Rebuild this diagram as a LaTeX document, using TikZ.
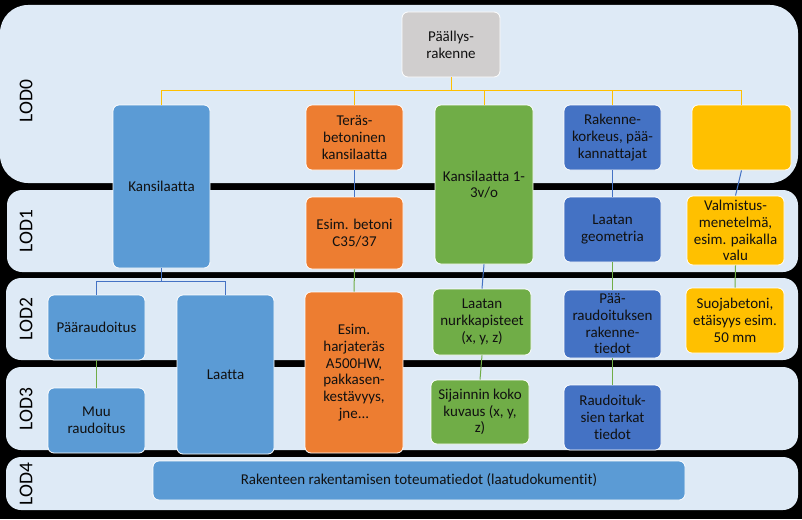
\documentclass[tikz,border=0pt]{standalone}
\usepackage{fontspec}
\setmainfont{Carlito}[Ligatures=NoCommon]
\definecolor{bandc}{HTML}{DEEAF6}
\definecolor{lblue}{HTML}{5B9BD5}
\definecolor{dblue}{HTML}{4472C4}
\definecolor{orng}{HTML}{ED7D31}
\definecolor{grn}{HTML}{70AD47}
\definecolor{yel}{HTML}{FFC000}
\definecolor{gry}{HTML}{D0CECE}
\definecolor{txt}{HTML}{111111}
\tikzset{
  band/.style={fill=bandc, draw=none},
  lodlabel/.style={rotate=90, font=\fontsize{19.5}{21}\selectfont, text=black},
  box/.style={draw=white, line width=0.8pt, rounded corners=6pt, align=center,
    inner sep=1pt, text=txt, font=\fontsize{15}{16.7}\selectfont},
  wbox/.style={box, minimum width=97pt},
  conny/.style={yel, line width=1pt},
  connb/.style={dblue, line width=1pt},
  conng/.style={grn, line width=1pt},
}
\begin{document}
\begin{tikzpicture}[x=1pt,y=-1pt]
\fill[black] (0,0) rectangle (802,519);
\useasboundingbox (0,0) rectangle (802,519);
% bands
\fill[band, rounded corners=28pt] (0,5) rectangle (798,183);
\fill[band, rounded corners=15pt] (7,190) rectangle (798,272);
\fill[band, rounded corners=15pt] (6,278) rectangle (798,360);
\fill[band, rounded corners=15pt] (6,367) rectangle (798,450);
\fill[band, rounded corners=15pt] (6,457) rectangle (798,510);
\node[lodlabel] (l0) at (26,101) {LOD0};
\node[lodlabel] (l1) at (26,231) {LOD1};
\node[lodlabel] (l2) at (26,319) {LOD2};
\node[lodlabel] (l3) at (26,409) {LOD3};
\node[lodlabel] (l4) at (26,484) {LOD4};
% nodes
\node[wbox, fill=gry, minimum width=98pt, minimum height=65pt] (root) at (451,44.5) {Päällys-\\rakenne};
\node[wbox, fill=lblue, minimum height=163pt] (kans) at (161.5,186.5) {Kansilaatta};
\node[wbox, fill=orng, minimum height=65pt] (teras) at (354.5,137.5) {Teräs-\\betoninen\\kansilaatta};
\node[wbox, fill=grn, minimum width=98pt, minimum height=159pt] (k13) at (484,184.5) {Kansilaatta 1-\\3v/o};
\node[wbox, fill=dblue, minimum height=65pt] (rak) at (612.5,137.5) {Rakenne-\\korkeus, pää-\\kannattajat};
\node[wbox, fill=yel, minimum width=99pt, minimum height=65pt] (ybox) at (741.5,137.5) {};
\node[wbox, fill=orng, minimum height=72pt] (betoni) at (354.5,233) {Esim. betoni\\C35/37};
\node[wbox, fill=dblue, minimum height=65pt] (geom) at (612.5,229.5) {Laatan\\geometria};
\node[wbox, fill=yel, minimum height=69pt] (valm) at (735.5,230.5) {Valmistus-\\menetelmä,\\esim. paikalla\\valu};
\node[wbox, fill=lblue, minimum height=65pt] (paar) at (96.5,327.5) {Pääraudoitus};
\node[wbox, fill=lblue, minimum height=159pt] (laatta) at (225.5,374.5) {Laatta};
\node[wbox, fill=orng, minimum width=98pt, minimum height=161pt] (harja) at (354,372.5) {Esim.\\harjateräs\\A500HW,\\pakkasen-\\kestävyys,\\jne...};
\node[wbox, fill=lblue, minimum height=65pt] (muu) at (96.5,420.5) {Muu\\raudoitus};
\node[wbox, fill=grn, minimum width=98pt, minimum height=66pt] (nurkka) at (482,322) {Laatan\\nurkkapisteet\\(x, y, z)};
\node[wbox, fill=grn, minimum width=98pt, minimum height=64pt] (sij) at (480,412) {Sijainnin koko\\kuvaus (x, y,\\z)};
\node[wbox, fill=dblue, minimum height=68pt] (paaraud) at (612.5,324) {Pää-\\raudoituksen\\rakenne-\\tiedot};
\node[wbox, fill=dblue, minimum height=65pt] (raudtark) at (612.5,417.5) {Raudoituk-\\sien tarkat\\tiedot};
\node[wbox, fill=yel, minimum width=98pt, minimum height=65pt] (suoja) at (735,320.5) {Suojabetoni,\\etäisyys esim.\\50 mm};
\node[box, fill=lblue, minimum width=532pt, minimum height=39pt] (lod4bar) at (419,480.5) {Rakenteen rakentamisen toteumatiedot (laatudokumentit)};
% connectors
\coordinate (bus) at (451,90);
\draw[conny] (root.south) -- (bus);
\draw[conny] (bus) -| (kans.north);
\draw[conny] (bus) -| (teras.north);
\draw[conny] (bus) -| (k13.north);
\draw[conny] (bus) -| (rak.north);
\draw[conny] (bus) -| (ybox.north);
\draw[connb] (teras.south) -- (betoni.north);
\draw[connb] (rak.south) -- (geom.north);
\draw[connb] (ybox.south) -- (valm.north);
\coordinate (kbus) at (161.5,281);
\draw[connb] (kans.south) -- (kbus);
\draw[connb] (kbus) -| (paar.north);
\draw[connb] (kbus) -| (laatta.north);
\draw[connb] (k13.south) -- (nurkka.north);
\draw[conng] (betoni.south) -- (harja.north);
\draw[conng] (geom.south) -- (paaraud.north);
\draw[conng] (valm.south) -- (suoja.north);
\draw[conng] (paar.south) -- (muu.north);
\draw[conng] (nurkka.south) -- (sij.north);
\draw[conng] (paaraud.south) -- (raudtark.north);
\end{tikzpicture}
\end{document}
